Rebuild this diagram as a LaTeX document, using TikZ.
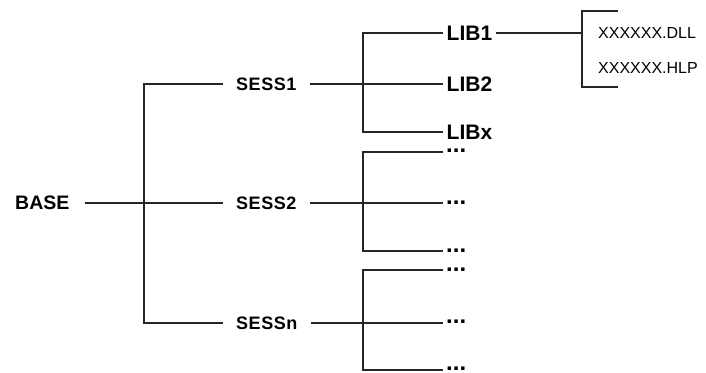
\documentclass[tikz,border=0pt]{standalone}
\usepackage{fontspec}
\setmainfont{Liberation Sans}
\begin{document}
\begin{tikzpicture}[x=1pt,y=-1pt,
  wire/.style={line width=1.2pt,black!85},
  basebox/.style={font=\fontsize{19.5}{20}\bfseries, inner xsep=15pt, inner ysep=0pt, anchor=west},
  sessbox/.style={font=\fontsize{18}{19}\bfseries\addfontfeature{LetterSpace=3}, inner xsep=13pt, inner ysep=0pt, anchor=west},
  libbox/.style={font=\fontsize{21}{22}\bfseries, inner xsep=3.5pt, inner ysep=0pt, anchor=west},
  dotbox/.style={font=\fontsize{24}{24}\bfseries, inner xsep=3pt, inner ysep=0pt, anchor=west},
  filebox/.style={font=\fontsize{16}{17}\selectfont, inner xsep=16pt, inner ysep=0pt, anchor=west}]
\useasboundingbox (0,0) rectangle (706,372);
% labels
\node[basebox] (base) at (0,203) {BASE};
\node[sessbox] (s1) at (223,84) {SESS1};
\node[sessbox] (s2) at (223,203) {SESS2};
\node[sessbox] (sn) at (223,323) {SESSn};
\node[libbox] (l1) at (443,33) {LIB1};
\node[libbox] (l2) at (443,84) {LIB2};
\node[libbox] (lx) at (443,132) {LIBx};
\node[dotbox] (d21) at (443,151) {...};
\node[dotbox] (d22) at (443,203) {...};
\node[dotbox] (d23) at (443,251) {...};
\node[dotbox] (d31) at (443,270) {...};
\node[dotbox] (d32) at (443,322) {...};
\node[dotbox] (d33) at (443,368.5) {...};
\node[filebox] (f1) at (582,33) {XXXXXX.DLL};
\node[filebox] (f2) at (582,68) {XXXXXX.HLP};
% junctions
\coordinate (j0t) at (144,84);
\coordinate (j0b) at (144,323);
\coordinate (j1t) at (363,33);
\coordinate (j1b) at (363,132);
\coordinate (j2t) at (363,152);
\coordinate (j2b) at (363,251);
\coordinate (j3t) at (363,270);
\coordinate (j3b) at (363,370);
\coordinate (bt) at (582,11);
\coordinate (bb) at (582,87);
\coordinate (bm) at (582,33);
\coordinate (btr) at (618,11);
\coordinate (bbr) at (618,87);
% base level
\draw[wire] (base.east) -- (s2.west);
\draw[wire] (s1.west) -- (j0t) -- (j0b) -- (sn.west);
% sess1 group
\draw[wire] (s1.east) -- (l2.west);
\draw[wire] (l1.west) -- (j1t) -- (j1b) -- (lx.west);
% sess2 group
\draw[wire] (s2.east) -- (d22.west |- s2.east);
\draw[wire] (d21.west |- j2t) -- (j2t) -- (j2b) -- (d23.west |- j2b);
% sessn group
\draw[wire] (sn.east) -- (d32.west |- sn.east);
\draw[wire] (d31.west |- j3t) -- (j3t) -- (j3b) -- (d33.west |- j3b);
% lib1 files
\draw[wire] (l1.east) -- (bm);
\draw[wire] (btr) -- (bt) -- (bb) -- (bbr);
\end{tikzpicture}
\end{document}
